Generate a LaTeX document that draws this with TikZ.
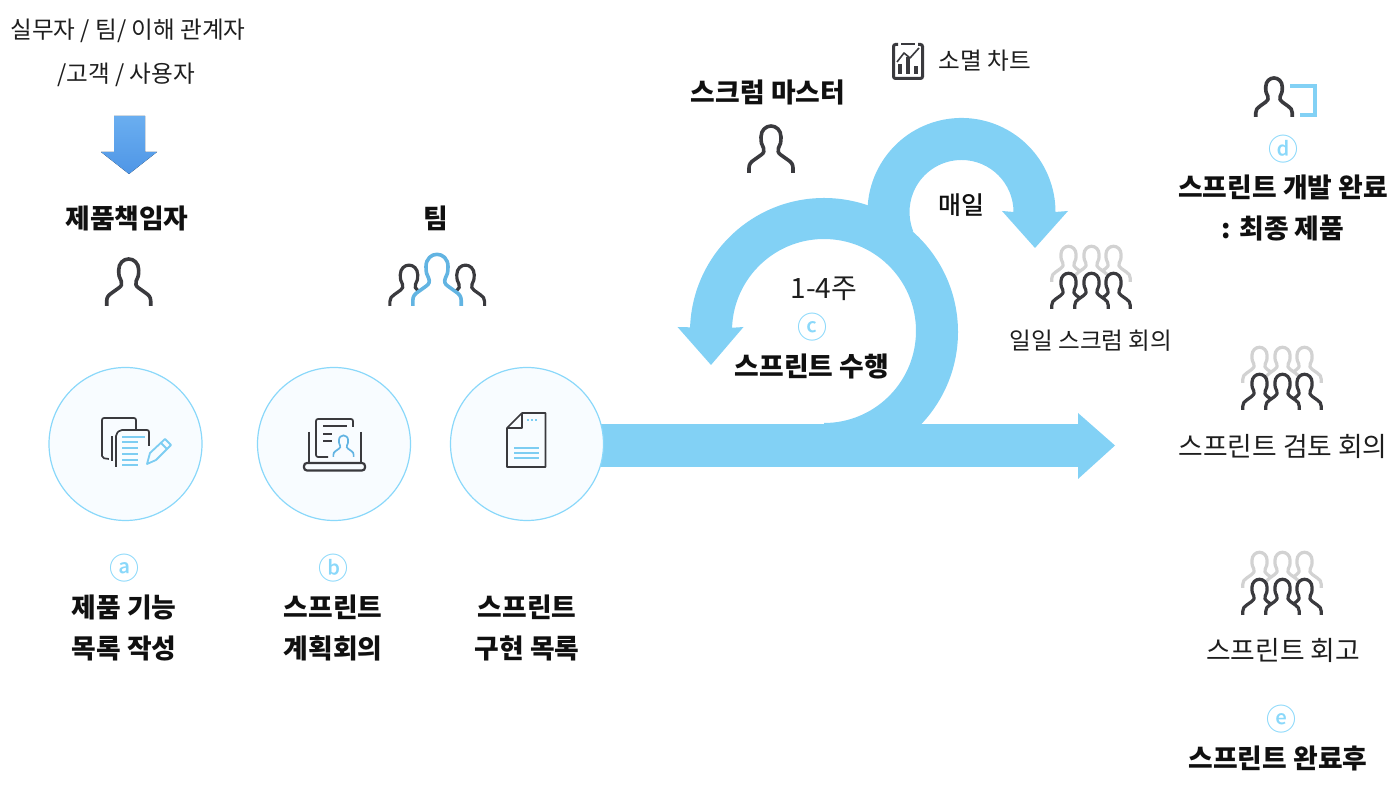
\documentclass[tikz,border=0pt]{standalone}
\usepackage{fontspec}
\setmainfont{Noto Sans CJK KR}
\newfontfamily\medfont{Noto Sans CJK KR Medium}
\definecolor{flow}{HTML}{82D1F5}
\definecolor{ring}{HTML}{8AD8FA}
\definecolor{pale}{HTML}{F8FCFF}
\definecolor{ink}{HTML}{1E1E1E}
\definecolor{strong}{HTML}{101010}
\definecolor{iconink}{HTML}{3A3A3E}
\definecolor{mid}{HTML}{62B4E2}
\definecolor{ghost}{HTML}{D2D2D2}
\definecolor{dropa}{HTML}{6AAEF0}
\definecolor{dropb}{HTML}{4F96E6}
\newcommand{\personpath}{(-22,0) -- (-22,5) .. controls (-22,9) and (-20,11) .. (-17,13) -- (-10,18) .. controls (-7,20) and (-6.5,22) .. (-7.5,25) .. controls (-9.5,28) and (-10,31) .. (-10,36) .. controls (-10,43) and (-5,47) .. (0,47) .. controls (5,47) and (10,43) .. (10,36) .. controls (10,31) and (9.5,28) .. (7.5,25) .. controls (6.5,22) and (7,20) .. (10,18) -- (17,13) .. controls (20,11) and (22,9) .. (22,5) -- (22,0)}
\newcommand{\personat}[5]{\begin{scope}[shift={(#1,#2)},scale=#3]
\fill[white] \personpath -- (22,-5) -- (-22,-5) -- cycle;
\draw[#4,line width=#5pt,line join=round] \personpath;
\end{scope}}
\newcommand{\crowdrow}[4]{\personat{#1+22}{#2}{.76}{#3}{#4}\personat{#1-23}{#2}{.76}{#3}{#4}\personat{#1}{#2}{.76}{#3}{#4}}
\newcommand{\crowd}[2]{\crowdrow{#1}{#2+27}{ghost}{3.2}\crowdrow{#1}{#2}{iconink}{3.2}}
\tikzset{x=1pt,y=1pt,
 lab/.style={font=\fontsize{23.6}{28}\selectfont,text=ink,inner sep=0pt,anchor=center},
 wide/.style={font=\fontsize{26.8}{30}\selectfont,text=ink,inner sep=0pt,anchor=center},
 boldlab/.style={font=\fontsize{26.8}{30}\selectfont\bfseries,text=strong,inner sep=0pt,anchor=center},
 marker/.style={font=\fontsize{30}{32}\selectfont\medfont,text=ring,inner sep=0pt,anchor=center},
 roundel/.style={circle,draw=ring,line width=1.2pt,fill=pale,minimum size=153pt,inner sep=0pt},
 inkline/.style={draw=iconink,line width=1.7pt},
 blueline/.style={draw=flow!85!mid,line width=1.8pt}}
\begin{document}
\begin{tikzpicture}
\useasboundingbox (0,0) rectangle (1389,786);
% flow shapes
\fill[flow] (600,319) rectangle (1078,362);
\fill[flow] (1078,307) -- (1115,340.5) -- (1078,373) -- cycle;
\fill[flow] (824,320) arc[start angle=-90,end angle=178,radius=134] -- (677.5,459) -- (711,421) -- (743.5,459) -- (732.05,458.2) arc[start angle=178,end angle=-90,radius=92] -- cycle;
\fill[flow] (870.7,549.7) arc[start angle=195,end angle=0,radius=94] -- (1068,575) -- (1035,538) -- (1002,575) -- (1013.5,574) arc[start angle=0,end angle=202,radius=52] -- cycle;
% circles
\node[roundel] (c1) at (125.5,342) {};
\node[roundel] (c2) at (334,342) {};
\node[roundel] (c3) at (527,342) {};
% down arrow
\fill[top color=dropa,bottom color=dropb] (114,670) -- (145,670) -- (145,634) -- (157,634) -- (129,612) -- (101,634) -- (114,634) -- cycle;
% people
\personat{128.7}{480}{1}{iconink}{3.6}
\personat{771}{613}{1}{iconink}{3.6}
\personat{409}{480}{.87}{iconink}{3.2}
\personat{465.5}{480}{.87}{iconink}{3.2}
\personat{437}{480}{1.1}{mid}{3.6}
\personat{1274}{669}{.83}{iconink}{3.6}
\draw[flow,line width=3.4pt] (1290,700) -- (1315,700) -- (1315,671) -- (1300,671);
\crowd{1091.5}{477}
\crowd{1282.5}{376}
\crowd{1282.5}{171}
% icon a
\draw[inkline,rounded corners=2pt] (136,352) -- (136,368) -- (102,368) -- (102,328) -- (109,327);
\fill[pale] (109,319) rectangle (149,356);
\draw[inkline,rounded corners=2pt] (116,319) -- (116,352) -- (120,356) -- (149,356) -- (149,340);
\draw[inkline] (112,325) -- (112,350);
\draw[blueline] (122,349) -- (145,349) (122,344) -- (138,344) (122,338) -- (138,338) (122,332) -- (138,332) (122,326) -- (138,326) (122,321) -- (138,321);
\draw[blueline,line join=round] (147,322) -- (150,333) -- (165,347) -- (171,341) -- (156,326) -- cycle (161,343) -- (167,337);
% icon b
\draw[inkline,rounded corners=2pt] (353,359) -- (353,367) -- (316,367) -- (316,329) -- (328,329);
\draw[inkline] (323,360) -- (347,360) (323,352) -- (332,352) (323,345) -- (332,345);
\draw[inkline] (309,354) -- (309,323) (361,354) -- (361,323);
\draw[iconink,line width=2.2pt,rounded corners=3pt] (304,323) -- (304,315.5) -- (365,315.5) -- (365,323) -- cycle;
\begin{scope}[shift={(343.5,329)},scale=.46]
\draw[mid,line width=1.7pt] \personpath;
\end{scope}
% icon c
\draw[inkline,line join=round] (522,373) -- (545.5,373) -- (545.5,319) -- (507,319) -- (507,358) -- (522,373) -- (522,358) -- (507,358);
\draw[blueline] (514,338) -- (539,338) (514,333) -- (539,333) (514,328) -- (539,328);
\draw[blueline,dash pattern=on 2pt off 2pt] (527,366) -- (538,366);
% chart icon
\draw[iconink,line width=3pt,rounded corners=2pt] (898,741.5) -- (893.5,741.5) -- (893.5,707.5) -- (922.5,707.5) -- (922.5,741.5) -- (918,741.5);
\draw[iconink,line width=2pt] (901,742) -- (915,742);
\draw[iconink,line width=1.6pt,line join=round] (897,724) -- (904,733) -- (910,728) -- (919,738);
\draw[iconink,line width=3.4pt] (900,712) -- (900,722) (908,712) -- (908,729) (916,712) -- (916,720);
% labels
\node[lab] (t1) at (128,755) {실무자 / 팀/ 이해 관계자};
\node[lab] (t2) at (126,711) {/고객 / 사용자};
\node[boldlab] (po) at (127,568) {제품책임자};
\node[boldlab] (team) at (436,568) {팀};
\node[marker] (ma) at (124,218) {ⓐ};
\node[marker] (mb) at (333,218) {ⓑ};
\node[marker] (mc) at (812,459) {ⓒ};
\node[marker] (md) at (1283,637) {ⓓ};
\node[marker] (me) at (1281,67) {ⓔ};
\node[boldlab] (a1) at (124,179) {제품 기능};
\node[boldlab] (a2) at (124,138) {목록 작성};
\node[boldlab] (b1) at (333,179) {스프린트};
\node[boldlab] (b2) at (333,138) {계획회의};
\node[boldlab] (s1) at (527,179) {스프린트};
\node[boldlab] (s2) at (527,138) {구현 목록};
\node[boldlab] (sm) at (768,694) {스크럼 마스터};
\node[lab] (burn) at (985,725) {소멸 차트};
\node[boldlab,font=\fontsize{25}{30}\selectfont\medfont] (daily) at (961,581) {매일};
\node[wide,font=\fontsize{28}{30}\selectfont] (wk) at (824,497) {1-4주};
\node[boldlab] (run) at (812,420) {스프린트 수행};
\node[lab] (ds) at (1091,445) {일일 스크럼 회의};
\node[boldlab] (d1) at (1283,599) {스프린트 개발 완료};
\node[boldlab] (d2) at (1283,558) {: 최종 제품};
\node[wide] (rv) at (1283,340) {스프린트 검토 회의};
\node[wide] (rt) at (1283,136) {스프린트 회고};
\node[boldlab] (af) at (1278,28) {스프린트 완료후};
\end{tikzpicture}
\end{document}
